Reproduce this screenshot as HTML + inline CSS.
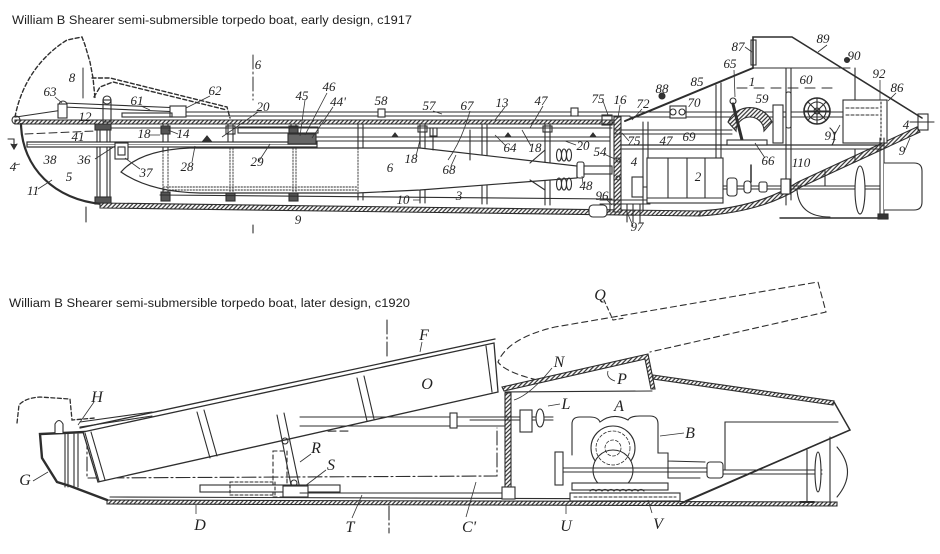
<!DOCTYPE html>
<html><head><meta charset="utf-8"><style>html,body{margin:0;padding:0;background:#fff;}svg{display:block}</style></head>
<body>
<svg width="940" height="554" viewBox="0 0 940 554" xmlns="http://www.w3.org/2000/svg">
<defs>
<pattern id="h" width="3" height="3" patternUnits="userSpaceOnUse" patternTransform="rotate(45)">
<rect width="3" height="3" fill="#fff"/>
<line x1="1" y1="0" x2="1" y2="3" stroke="#2e2e2e" stroke-width="1.2"/>
</pattern>
</defs>
<rect width="940" height="554" fill="#fff"/>

<text x="12" y="24" font-family="Liberation Sans, sans-serif" font-size="11.5" fill="#1e1e1e" textLength="400" lengthAdjust="spacingAndGlyphs">William B Shearer semi-submersible torpedo boat, early design, c1917</text>
<text x="9" y="307" font-family="Liberation Sans, sans-serif" font-size="11.5" fill="#1e1e1e" textLength="401" lengthAdjust="spacingAndGlyphs">William B Shearer semi-submersible torpedo boat, later design, c1920</text>

<!-- ================= TOP DRAWING ================= -->
<g stroke="#2e2e2e" stroke-width="1.1" fill="none" stroke-linecap="round">
<!-- frames (behind torpedo) -->
<g>
<line x1="163" y1="124" x2="163" y2="200"/><line x1="168" y1="124" x2="168" y2="200"/>
<line x1="228" y1="124" x2="228" y2="200"/><line x1="233" y1="124" x2="233" y2="200"/>
<line x1="291" y1="124" x2="291" y2="200"/><line x1="296" y1="124" x2="296" y2="200"/>
<line x1="358" y1="124" x2="358" y2="200"/><line x1="363" y1="124" x2="363" y2="200"/>
<line x1="420" y1="124" x2="420" y2="203"/><line x1="425" y1="124" x2="425" y2="203"/>
<line x1="482" y1="124" x2="482" y2="204"/><line x1="487" y1="124" x2="487" y2="204"/>
<line x1="545" y1="124" x2="545" y2="205"/><line x1="550" y1="124" x2="550" y2="205"/>
<rect x="161" y="192" width="9" height="9" fill="#555"/>
<rect x="226" y="192" width="9" height="9" fill="#555"/>
<rect x="289" y="192" width="9" height="9" fill="#555"/>
<rect x="161" y="126" width="9" height="8" fill="#555"/>
<rect x="226" y="126" width="9" height="8"/>
<rect x="289" y="126" width="9" height="8" fill="#555"/>
<rect x="418" y="126" width="9" height="6"/>
<rect x="543" y="126" width="9" height="6"/>
</g>
<!-- inner bottom line -->
<line x1="160" y1="195" x2="612" y2="199"/>
<line x1="110" y1="128" x2="612" y2="128"/>

<!-- left bulkhead -->
<line x1="97" y1="124" x2="97" y2="203"/><line x1="100" y1="124" x2="100" y2="203"/>
<line x1="107" y1="124" x2="107" y2="203"/><line x1="110" y1="124" x2="110" y2="203"/>
<rect x="95" y="197" width="16" height="7" fill="#555"/>
<rect x="95" y="124" width="16" height="6" fill="#555"/>

<!-- torpedo -->
<path d="M121 172 Q140 150 190 148 L420 148 L577 166 L577 178 L420 190 L357 193 L200 193 Q150 192 121 172 Z" fill="#fff" stroke-width="1.2"/>
<g stroke-dasharray="1.5 1.5" stroke-width="0.9">
<line x1="163" y1="148" x2="163" y2="192"/><line x1="168" y1="148" x2="168" y2="192"/>
<line x1="230" y1="148" x2="230" y2="192"/><line x1="233" y1="148" x2="233" y2="192"/>
<line x1="293" y1="148" x2="293" y2="192"/><line x1="296" y1="148" x2="296" y2="192"/>
<line x1="358" y1="148" x2="358" y2="192"/>
<line x1="163" y1="187" x2="358" y2="187"/><line x1="163" y1="190" x2="358" y2="190"/>
</g>
<!-- torpedo propeller -->
<ellipse cx="559" cy="155" rx="2.5" ry="6"/><ellipse cx="564" cy="155" rx="2.5" ry="6"/><ellipse cx="569" cy="155" rx="2.5" ry="6"/>
<ellipse cx="559" cy="184" rx="2.5" ry="6"/><ellipse cx="564" cy="184" rx="2.5" ry="6"/><ellipse cx="569" cy="184" rx="2.5" ry="6"/>
<rect x="577" y="162" width="7" height="16" rx="2" fill="#fff"/>
<rect x="584" y="166" width="28" height="8" fill="#fff"/>
<line x1="470" y1="160" x2="470" y2="130"/>
<path d="M530 163 L545 150"/><path d="M530 180 L545 190"/>

<!-- shaft 38 -->
<rect x="27" y="142" width="290" height="5" fill="#fff" stroke-width="1.2"/>
<line x1="27" y1="144.5" x2="317" y2="144.5" stroke-width="0.6"/>
<rect x="115" y="143" width="13" height="16" fill="#fff"/>
<rect x="118" y="147" width="7" height="8"/>
<!-- rail 20 -->
<line x1="300" y1="137" x2="610" y2="137"/><line x1="300" y1="141" x2="610" y2="141"/>
<rect x="238" y="127" width="80" height="6"/>
<rect x="288" y="134" width="28" height="10" fill="#666"/>
<path d="M392 137 l3 -4 l3 4 Z M505 137 l3 -4 l3 4 Z M590 137 l3 -4 l3 4 Z M203 141 l4 -5 l4 5Z" fill="#333"/>
<line x1="433" y1="128" x2="433" y2="150"/><rect x="430" y="128" width="7" height="8"/>

<!-- deck -->
<polygon points="15,120 620,120 620,124 15,124" fill="url(#h)"/>
<line x1="172" y1="112" x2="630" y2="112"/><line x1="172" y1="116" x2="630" y2="116"/>
<rect x="378" y="109" width="7" height="8" fill="#fff"/>
<rect x="571" y="108" width="7" height="8" fill="#fff"/>
<rect x="602" y="115" width="10" height="10"/>

<!-- bow -->
<path d="M21 124 C22 168 55 200 102 204" stroke-width="2.2"/>
<circle cx="16" cy="120" r="4"/>
<line x1="16" y1="117" x2="63" y2="110"/>
<!-- linkage 61/63 -->
<line x1="63" y1="103" x2="182" y2="108"/><line x1="63" y1="107" x2="182" y2="112"/>
<circle cx="63" cy="105" r="4" fill="#fff"/>
<rect x="58" y="104" width="9" height="14" fill="#fff"/>
<circle cx="107" cy="100" r="4" fill="#fff"/>
<rect x="103" y="100" width="8" height="22"/>
<circle cx="182" cy="110" r="4" fill="#fff"/>
<rect x="170" y="106" width="16" height="11" fill="#fff"/>
<rect x="122" y="113" width="50" height="4"/>
<!-- dashed lifted arm -->
<g stroke-dasharray="4 2.5" stroke-width="1.4">
<path d="M15 117 C20 90 35 60 67 40 L82 37 L85 45 L90 62 L93 78 L95 98"/>
<path d="M92 78 L110 78 L227 107 L230 118"/>
<path d="M94 97 L100 87 L113 82 L227 110"/>
<line x1="25" y1="134" x2="95" y2="131" stroke-dasharray="8 4" stroke-width="1"/>
</g>
<!-- section lines -->
<line x1="83" y1="68" x2="83" y2="98" stroke-width="1"/>
<line x1="253" y1="55" x2="253" y2="100" stroke-width="1" stroke-dasharray="14 3 2 3"/>
<line x1="86" y1="207" x2="86" y2="222"/>
<line x1="253" y1="225" x2="253" y2="233"/>
<path d="M8 139 L14 139 L14 147"/><path d="M11 144 L14 149 L17 144" fill="#333"/>

<!-- bottom hull -->
<polygon points="100,203 700,211 700,216 100,208" fill="url(#h)"/>
<path d="M700 211 Q760 207 798 182 L917 127 L920 132 L801 187 Q763 212 700 216 Z" fill="url(#h)"/>
<line x1="780" y1="218" x2="888" y2="218" stroke-width="1.4"/>
<rect x="878" y="214" width="10" height="5" fill="#333"/>
<path d="M797 190 Q799 217 830 217"/>
<rect x="589" y="205" width="18" height="12" rx="4" fill="#fff"/>

<!-- aft bulkhead -->
<polygon points="614,117 621,117 621,212 614,212" fill="url(#h)"/>
<line x1="610" y1="120" x2="610" y2="212"/>
<line x1="643" y1="122" x2="643" y2="210"/><line x1="648" y1="122" x2="648" y2="158"/>
<line x1="600" y1="200" x2="650" y2="200"/><line x1="600" y1="204" x2="650" y2="204"/>
<line x1="627" y1="204" x2="627" y2="222"/><line x1="633" y1="204" x2="633" y2="222"/><line x1="640" y1="204" x2="640" y2="222"/>
<rect x="632" y="177" width="11" height="20" fill="#fff"/>
<line x1="643" y1="187" x2="657" y2="187"/>
<circle cx="618" cy="160" r="2"/><circle cx="618" cy="178" r="2"/>

<!-- cabin / tower -->
<path d="M625 121 L753 68" stroke-width="2"/>
<path d="M753 68 L753 37 L792 37 L922 118" stroke-width="1.6"/>
<line x1="753" y1="68" x2="850" y2="68"/>
<rect x="751" y="40" width="5" height="25"/>
<rect x="918" y="114" width="10" height="16"/>
<line x1="910" y1="122" x2="934" y2="122"/>
<circle cx="662" cy="96" r="3" fill="#333"/>
<circle cx="847" cy="60" r="2.5" fill="#333"/>
<line x1="630" y1="112" x2="843" y2="112"/><line x1="630" y1="117" x2="843" y2="117"/>
<line x1="615" y1="130" x2="732" y2="130"/><line x1="615" y1="134" x2="732" y2="134"/>
<line x1="622" y1="145" x2="884" y2="145" stroke-width="1.3"/><line x1="622" y1="149" x2="882" y2="149"/>
<line x1="716" y1="85" x2="716" y2="158"/><line x1="721" y1="83" x2="721" y2="158"/>
<line x1="786" y1="68" x2="786" y2="205"/><line x1="791" y1="68" x2="791" y2="200"/>
<line x1="855" y1="68" x2="855" y2="100"/>
<line x1="855" y1="149" x2="855" y2="162"/>
<line x1="737" y1="88" x2="832" y2="88" stroke-dasharray="10 7"/>
<rect x="670" y="106" width="16" height="12" fill="#fff"/>
<circle cx="673" cy="112" r="3"/><circle cx="682" cy="112" r="3"/>
<rect x="773" y="105" width="10" height="38" fill="#fff"/>
<rect x="786" y="92" width="5" height="36" rx="2" fill="#fff"/>
<!-- quadrant 66 -->
<path d="M728 122 A24 24 0 0 1 772 122 L764 131 A14 14 0 0 0 736 131 Z" fill="url(#h)"/>
<path d="M742 140 L733 104" stroke-width="3"/>
<circle cx="733" cy="101" r="3"/>
<rect x="727" y="140" width="40" height="5" fill="#fff"/>
<!-- wheel -->
<circle cx="817" cy="111" r="13" stroke-width="1.6"/>
<circle cx="817" cy="111" r="9"/>
<circle cx="817" cy="111" r="3"/>
<path d="M817 98 L817 124 M804 111 L830 111 M808 102 L826 120 M826 102 L808 120"/>
<path d="M830 128 Q838 135 832 145"/>
<!-- box 92 -->
<rect x="843" y="100" width="44" height="43" fill="#fff"/>
<line x1="846" y1="108" x2="878" y2="108" stroke-dasharray="3 2"/>
<line x1="846" y1="115" x2="878" y2="115" stroke-dasharray="3 2"/>
<line x1="881" y1="102" x2="881" y2="142" stroke-dasharray="2 2"/>
<!-- engine 2 -->
<rect x="647" y="158" width="76" height="45" fill="#fff"/>
<line x1="668" y1="158" x2="668" y2="198"/><line x1="687" y1="158" x2="687" y2="198"/><line x1="705" y1="158" x2="705" y2="198"/>
<line x1="647" y1="198" x2="723" y2="198"/>
<line x1="723" y1="186" x2="880" y2="186"/><line x1="723" y1="189" x2="880" y2="189"/>
<rect x="727" y="178" width="10" height="18" rx="3" fill="#fff"/>
<rect x="744" y="181" width="7" height="12" rx="3" fill="#fff"/>
<rect x="759" y="182" width="8" height="10" rx="2" fill="#fff"/>
<rect x="781" y="179" width="9" height="15" fill="#fff"/>
<line x1="751" y1="165" x2="751" y2="182" stroke-width="1.5"/>
<line x1="825" y1="170" x2="825" y2="186"/>
<ellipse cx="860" cy="190" rx="5" ry="24" fill="#fff"/>
<line x1="880" y1="138" x2="880" y2="214"/><line x1="884" y1="138" x2="884" y2="214"/>
<path d="M884 163 L914 163 Q922 163 922 171 L922 202 Q922 210 914 210 L884 210" fill="#fff"/>
</g>

<!-- top labels -->
<g font-family="Liberation Serif, serif" font-style="italic" font-size="13" fill="#222" text-anchor="middle">
<text x="72" y="82">8</text><text x="258" y="69">6</text>
<text x="50" y="96">63</text><text x="137" y="105">61</text><text x="215" y="95">62</text>
<text x="263" y="111">20</text><text x="302" y="100">45</text><text x="329" y="91">46</text>
<text x="338" y="106">44'</text><text x="381" y="105">58</text><text x="429" y="110">57</text>
<text x="467" y="110">67</text><text x="502" y="107">13</text><text x="541" y="105">47</text>
<text x="598" y="103">75</text><text x="620" y="104">16</text><text x="643" y="108">72</text>
<text x="662" y="93">88</text><text x="697" y="86">85</text><text x="730" y="68">65</text>
<text x="738" y="51">87</text><text x="823" y="43">89</text><text x="854" y="60">90</text>
<text x="879" y="78">92</text><text x="897" y="92">86</text>
<text x="752" y="86">1</text><text x="806" y="84">60</text><text x="762" y="103">59</text>
<text x="694" y="107">70</text>
<text x="85" y="121">12</text><text x="78" y="141">41</text><text x="144" y="138">18</text>
<text x="183" y="138">14</text><text x="50" y="164">38</text><text x="84" y="164">36</text>
<text x="146" y="177">37</text><text x="187" y="171">28</text><text x="257" y="166">29</text>
<text x="390" y="172">6</text><text x="411" y="163">18</text><text x="449" y="174">68</text>
<text x="69" y="181">5</text><text x="33" y="195">11</text><text x="403" y="204">10</text>
<text x="459" y="200">3</text><text x="13" y="171">4</text>
<text x="510" y="152">64</text><text x="535" y="152">18</text><text x="583" y="150">20</text>
<text x="600" y="156">54</text><text x="634" y="145">75</text><text x="666" y="145">47</text>
<text x="689" y="141">69</text><text x="634" y="166">4</text><text x="698" y="181">2</text>
<text x="768" y="165">66</text><text x="801" y="167">110</text><text x="831" y="140">91</text>
<text x="902" y="155">9</text><text x="586" y="190">48</text><text x="602" y="200">96</text>
<text x="637" y="231">97</text><text x="298" y="224">9</text><text x="906" y="129">4</text>
</g>
<g stroke="#333" stroke-width="0.8" fill="none">
<path d="M55 97 L62 103 M210 96 L186 108 M141 106 L150 110 M258 112 L222 137 M305 100 L300 136 M327 93 L305 135 M333 107 L312 138 M433 111 L442 114 M470 111 Q462 140 448 160 M505 107 L495 120 M543 106 L530 128 M603 101 L608 115 M620 105 L618 118 M642 109 L632 120 M734 70 L735 97 M745 47 L752 52 M827 45 L818 52 M880 80 L880 100 M896 93 L888 101 M150 135 L160 135 M178 134 L168 130 M95 159 L115 146 M140 169 L125 158 M192 162 L195 146 M259 161 L270 144 M416 156 L420 140 M451 166 L456 155 M38 189 L52 180 M413 200 L420 200 M506 146 L495 135 M531 146 L522 130 M576 145 L565 141 M604 154 L615 159 M629 141 L622 133 M765 158 L755 143 M835 134 L840 125 M905 150 L910 138 M583 184 L582 176 M607 200 L612 205 M633 226 L627 212 M15 165 L20 164"/>
</g>

<!-- ================= BOTTOM DRAWING ================= -->
<g stroke="#2e2e2e" stroke-width="1.1" fill="none" stroke-linecap="round">
<!-- dashed Q outline -->
<path d="M537 380 Q505 372 498 362 Q508 338 555 327 L818 282 L826 312 L650 352" stroke-dasharray="6 4"/>
<path d="M604 300 L613 320 L625 318" stroke-dasharray="4 3"/>
<!-- left hull -->
<path d="M85 432 L40 434 L42 458 L57 482 L70 486 L107 500" stroke-width="2.4"/>
<line x1="65" y1="434" x2="65" y2="487"/><line x1="68" y1="434" x2="68" y2="487"/>
<line x1="74" y1="434" x2="74" y2="487"/><line x1="78" y1="434" x2="78" y2="487"/>
<!-- dashed cover -->
<path d="M17 423 L19 405 Q25 398 40 397 L70 399 L72 420 L95 418" stroke-dasharray="4 2.5" stroke-width="1.3"/>
<path d="M55 433 L55 424 Q59 417 63 424 L63 433" fill="#fff"/>
<line x1="80" y1="422" x2="152" y2="412"/><line x1="80" y1="427" x2="152" y2="416"/>
<!-- torpedo dashed -->
<path d="M100 433 L350 431 M150 423 L350 422" stroke-dasharray="8 4"/>
<path d="M150 423 L150 433 M190 422 Q195 418 200 422" stroke-dasharray="3 2"/>
<!-- dash-dot center -->
<path d="M87 435 L87 478 L497 476 L497 428" stroke-dasharray="14 3 2 3"/>
<line x1="387" y1="320" x2="387" y2="356" stroke-dasharray="14 3 2 3"/>
<line x1="389" y1="506" x2="389" y2="533" stroke-dasharray="14 3 2 3"/>
<!-- tube -->
<path d="M83 432 L494 343 L498 392 L98 482 Z" fill="#fff" stroke-width="1.3"/>
<line x1="80" y1="428" x2="495" y2="339" stroke-width="1.3"/>
<line x1="493" y1="339" x2="522" y2="344" stroke-width="0"/>
<line x1="85" y1="433" x2="99" y2="481"/><line x1="91" y1="432" x2="105" y2="480"/>
<line x1="197" y1="412" x2="210" y2="458"/><line x1="204" y1="410" x2="217" y2="456"/>
<line x1="357" y1="378" x2="367" y2="421"/><line x1="364" y1="376" x2="374" y2="419"/>
<line x1="486" y1="346" x2="492" y2="392"/>
<!-- rails -->
<line x1="300" y1="417" x2="507" y2="417"/><line x1="300" y1="426" x2="507" y2="426"/>
<rect x="450" y="413" width="7" height="15" fill="#fff"/>
<!-- R / S -->
<line x1="277" y1="415" x2="292" y2="490"/><line x1="284" y1="413" x2="300" y2="489"/>
<circle cx="285" cy="441" r="3"/><circle cx="294" cy="483" r="3"/>
<rect x="273" y="451" width="14" height="46" stroke-dasharray="4 3"/>
<rect x="200" y="485" width="140" height="7" fill="#fff"/>
<rect x="230" y="482" width="45" height="13" stroke-dasharray="3 2"/>
<rect x="283" y="486" width="25" height="11" fill="#fff"/>
<!-- bottom -->
<line x1="300" y1="493" x2="505" y2="493"/>
<line x1="110" y1="497" x2="680" y2="499"/>
<polygon points="107,500 837,502 837,506 107,504" fill="url(#h)"/>
<!-- bulkhead -->
<polygon points="505,393 511,393 511,490 505,490" fill="url(#h)"/>
<rect x="502" y="487" width="13" height="12" fill="#fff"/>
<!-- L -->
<line x1="470" y1="417" x2="553" y2="417"/><line x1="470" y1="420" x2="553" y2="420"/>
<rect x="520" y="410" width="12" height="22" fill="#fff"/>
<ellipse cx="540" cy="418" rx="4" ry="9" fill="#fff"/>
<!-- hatch P -->
<path d="M502 387 L648 354 L655 389 L651 389 L645 359 L504 391 Z" fill="url(#h)"/>
<line x1="505" y1="392" x2="652" y2="391"/>
<!-- main hull right -->
<polygon points="653,375 834,401 833,405 653,379" fill="url(#h)"/>
<path d="M834 402 L850 430 L680 504" stroke-width="1.5"/>
<line x1="845" y1="432" x2="685" y2="501"/>
<path d="M725 470 L725 422 L838 422"/>
<line x1="830" y1="437" x2="830" y2="505"/>
<path d="M837 447 Q858 472 837 497"/>
<line x1="807" y1="450" x2="807" y2="502"/>
<line x1="800" y1="502" x2="814" y2="502" stroke-width="2"/>
<line x1="722" y1="470" x2="822" y2="470"/><line x1="722" y1="474" x2="822" y2="474"/>
<ellipse cx="818" cy="472" rx="3" ry="20" fill="#fff"/>
<!-- engine B -->
<path d="M572 455 L572 424 Q572 417 580 417 L590 417 Q598 417 600 422 Q613 412 628 420 Q630 416 640 416 L650 416 Q658 416 658 424 L658 453 L668 453 L668 461 L705 462" fill="#fff"/>
<circle cx="613" cy="448" r="22" fill="#fff"/>
<circle cx="613" cy="470" r="20" fill="#fff"/>
<circle cx="613" cy="448" r="17" stroke-dasharray="3 2" stroke-width="0.8"/>
<circle cx="613" cy="448" r="8" stroke-dasharray="3 2" stroke-width="0.8"/>
<line x1="563" y1="468" x2="707" y2="468"/><line x1="563" y1="472" x2="707" y2="472"/>
<rect x="555" y="452" width="8" height="33" fill="#fff"/>
<rect x="707" y="462" width="16" height="16" rx="3" fill="#fff"/>
<rect x="572" y="483" width="96" height="7" fill="#fff"/>
<rect x="570" y="493" width="110" height="8" fill="#fff"/>
<line x1="574" y1="497" x2="676" y2="497" stroke-dasharray="3 2"/>
<path d="M590 491 q3 -3 6 0 q3 -3 6 0 q3 -3 6 0 q3 -3 6 0 q3 -3 6 0 q3 -3 6 0 q3 -3 6 0 q3 -3 6 0 q3 -3 6 0"/>
<path d="M668 461 L668 478 L700 478"/>
</g>

<!-- bottom labels -->
<g font-family="Liberation Serif, serif" font-style="italic" font-size="16" fill="#222" text-anchor="middle">
<text x="424" y="340">F</text><text x="97" y="402">H</text><text x="427" y="389">O</text>
<text x="316" y="453">R</text><text x="331" y="470">S</text><text x="25" y="485">G</text>
<text x="200" y="530">D</text><text x="350" y="532">T</text><text x="469" y="532">C'</text>
<text x="600" y="300">Q</text><text x="559" y="367">N</text><text x="622" y="384">P</text>
<text x="566" y="409">L</text><text x="619" y="411">A</text><text x="690" y="438">B</text>
<text x="566" y="531">U</text><text x="658" y="529">V</text>
</g>
<g stroke="#333" stroke-width="0.8" fill="none">
<path d="M422 342 L420 352 M94 402 L78 425 M311 454 L300 462 M326 470 L305 486 M33 481 L48 472 M196 514 L196 505 M352 518 L362 495 M466 517 L476 482 M566 514 L566 505 M652 513 L648 500 M552 368 Q530 395 514 400 M615 381 Q606 378 608 371 M560 404 L548 406 M684 433 L660 436"/>
</g>
</svg>
</body></html>
